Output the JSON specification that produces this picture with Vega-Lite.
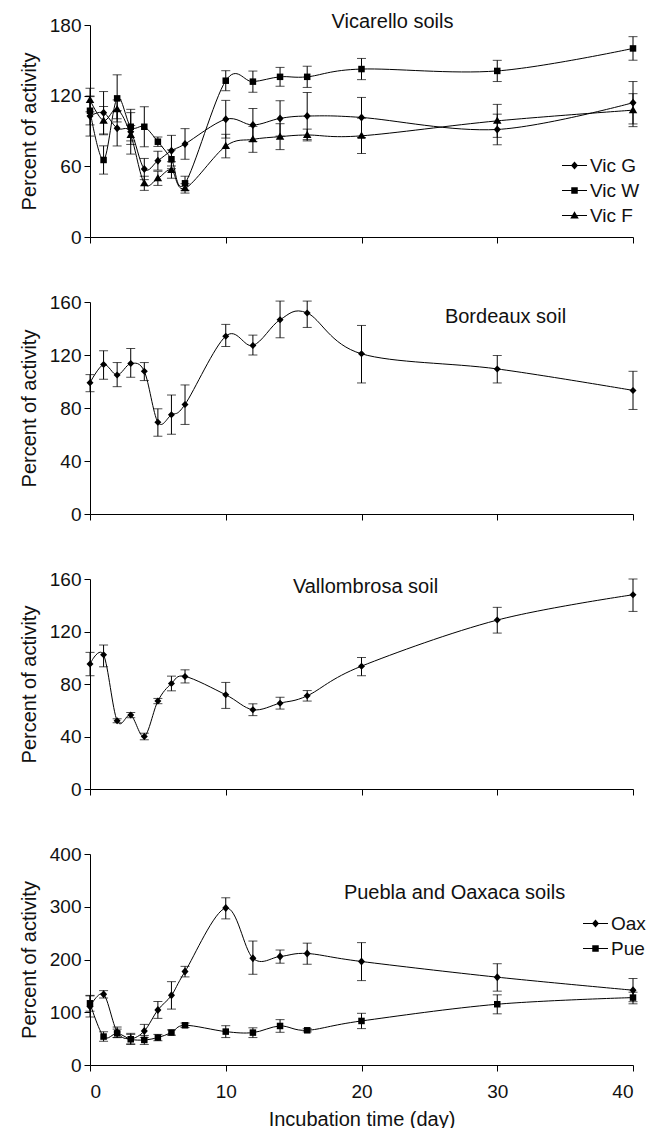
{
  "$schema": "https://vega.github.io/schema/vega-lite/v6.json",
  "padding": {"left": 19, "top": 12, "right": 5, "bottom": 0},
  "bounds": "flush",
  "spacing": 65,
  "config": {
    "font": "Liberation Sans",
    "view": {"stroke": null},
    "axis": {"grid": false, "domainColor": "#000", "tickColor": "#000", "labelColor": "#111", "titleColor": "#111", "labelFontSize": 19, "titleFontSize": 20, "titleFontWeight": "normal", "tickSize": 6, "labelPadding": 3, "domainWidth": 1, "tickWidth": 1},
    "axisX": {"labelPadding": 11, "titlePadding": 8},
    "axisY": {"titlePadding": 10},
    "title": {"fontSize": 20, "fontWeight": "normal", "color": "#111", "frame": "group", "anchor": "middle", "baseline": "alphabetic"},
    "legend": {"labelFontSize": 19, "labelColor": "#111"}
  },
  "resolve": {"scale": {"x": "independent", "y": "independent", "shape": "independent"}, "legend": {"shape": "independent"}},
  "datasets": {
    "vic": [
      {"series": "Vic G", "day": 0, "v": 102.7, "lo": 85.7, "hi": 119.7},
      {"series": "Vic G", "day": 1, "v": 105.5, "lo": 87.5, "hi": 123.5},
      {"series": "Vic G", "day": 2, "v": 92.3, "lo": 77.3, "hi": 107.3},
      {"series": "Vic G", "day": 3, "v": 89.4, "lo": 70.4, "hi": 108.4},
      {"series": "Vic G", "day": 4, "v": 57.7, "lo": 48.7, "hi": 66.7},
      {"series": "Vic G", "day": 5, "v": 64.8, "lo": 56.8, "hi": 72.8},
      {"series": "Vic G", "day": 6, "v": 73.3, "lo": 60.3, "hi": 86.3},
      {"series": "Vic G", "day": 7, "v": 79, "lo": 66, "hi": 92},
      {"series": "Vic G", "day": 10, "v": 100, "lo": 84, "hi": 116},
      {"series": "Vic G", "day": 12, "v": 95.1, "lo": 81.1, "hi": 109.1},
      {"series": "Vic G", "day": 14, "v": 100.7, "lo": 85.7, "hi": 115.7},
      {"series": "Vic G", "day": 16, "v": 102.7, "lo": 82.7, "hi": 122.7},
      {"series": "Vic G", "day": 20, "v": 101.5, "lo": 84.5, "hi": 118.5},
      {"series": "Vic G", "day": 30, "v": 91.3, "lo": 78.3, "hi": 104.3},
      {"series": "Vic G", "day": 40, "v": 114, "lo": 96, "hi": 132},
      {"series": "Vic W", "day": 0, "v": 107.2, "lo": 95.2, "hi": 119.2},
      {"series": "Vic W", "day": 1, "v": 65.4, "lo": 53.4, "hi": 77.4},
      {"series": "Vic W", "day": 2, "v": 117.7, "lo": 97.7, "hi": 137.7},
      {"series": "Vic W", "day": 3, "v": 93.6, "lo": 81.6, "hi": 105.6},
      {"series": "Vic W", "day": 4, "v": 93.6, "lo": 76.6, "hi": 110.6},
      {"series": "Vic W", "day": 5, "v": 80.9, "lo": 76.9, "hi": 84.9},
      {"series": "Vic W", "day": 6, "v": 66, "lo": 58, "hi": 74},
      {"series": "Vic W", "day": 7, "v": 45.6, "lo": 39.6, "hi": 51.6},
      {"series": "Vic W", "day": 10, "v": 132.7, "lo": 124.2, "hi": 141.2},
      {"series": "Vic W", "day": 12, "v": 131.9, "lo": 122.9, "hi": 140.9},
      {"series": "Vic W", "day": 14, "v": 136, "lo": 128, "hi": 144},
      {"series": "Vic W", "day": 16, "v": 136, "lo": 127, "hi": 145},
      {"series": "Vic W", "day": 20, "v": 142.6, "lo": 133.6, "hi": 151.6},
      {"series": "Vic W", "day": 30, "v": 141, "lo": 132, "hi": 150},
      {"series": "Vic W", "day": 40, "v": 160.1, "lo": 150.1, "hi": 170.1},
      {"series": "Vic F", "day": 0, "v": 116.3, "lo": 106.3, "hi": 126.3},
      {"series": "Vic F", "day": 1, "v": 98.8, "lo": 86.8, "hi": 110.8},
      {"series": "Vic F", "day": 2, "v": 108.4, "lo": 100.4, "hi": 116.4},
      {"series": "Vic F", "day": 3, "v": 86.6, "lo": 78.6, "hi": 94.6},
      {"series": "Vic F", "day": 4, "v": 45.6, "lo": 39.6, "hi": 51.6},
      {"series": "Vic F", "day": 5, "v": 49.8, "lo": 43.8, "hi": 55.8},
      {"series": "Vic F", "day": 6, "v": 56.9, "lo": 49.9, "hi": 63.9},
      {"series": "Vic F", "day": 7, "v": 41.3, "lo": 37.3, "hi": 45.3},
      {"series": "Vic F", "day": 10, "v": 77.2, "lo": 67.2, "hi": 87.2},
      {"series": "Vic F", "day": 12, "v": 82.9, "lo": 71.9, "hi": 93.9},
      {"series": "Vic F", "day": 14, "v": 85.2, "lo": 74.2, "hi": 96.2},
      {"series": "Vic F", "day": 16, "v": 86.6, "lo": 81.6, "hi": 91.6},
      {"series": "Vic F", "day": 20, "v": 85.9, "lo": 70.9, "hi": 100.9},
      {"series": "Vic F", "day": 30, "v": 98.6, "lo": 84.6, "hi": 112.6},
      {"series": "Vic F", "day": 40, "v": 107.7, "lo": 93.7, "hi": 121.7}
    ],
    "bdx": [
      {"day": 0, "v": 99.1, "lo": 92.3, "hi": 105.2},
      {"day": 1, "v": 112.8, "lo": 101.7, "hi": 123.2},
      {"day": 2, "v": 104.9, "lo": 96.1, "hi": 114.3},
      {"day": 3, "v": 113.5, "lo": 103.2, "hi": 124.9},
      {"day": 4, "v": 107.7, "lo": 100.7, "hi": 114.3},
      {"day": 5, "v": 69.3, "lo": 58.7, "hi": 79.4},
      {"day": 6, "v": 74.9, "lo": 60.2, "hi": 89.8},
      {"day": 7, "v": 82.7, "lo": 67.6, "hi": 97.4},
      {"day": 10, "v": 134.2, "lo": 126.4, "hi": 143.1},
      {"day": 12, "v": 127.2, "lo": 120, "hi": 135},
      {"day": 14, "v": 146.6, "lo": 133, "hi": 160.7},
      {"day": 16, "v": 151.7, "lo": 140.8, "hi": 160.7},
      {"day": 20, "v": 120.9, "lo": 98.9, "hi": 142.3},
      {"day": 30, "v": 109.5, "lo": 98.9, "hi": 119.6},
      {"day": 40, "v": 93.3, "lo": 78.9, "hi": 107.7}
    ],
    "val": [
      {"day": 0, "v": 95.2, "lo": 86.3, "hi": 104.1},
      {"day": 1, "v": 102.2, "lo": 93.1, "hi": 109.7},
      {"day": 2, "v": 52, "lo": 50.5, "hi": 53.5},
      {"day": 3, "v": 56.3, "lo": 54.3, "hi": 58.3},
      {"day": 4, "v": 40, "lo": 37.5, "hi": 42.5},
      {"day": 5, "v": 67, "lo": 65, "hi": 69},
      {"day": 6, "v": 80.4, "lo": 74.8, "hi": 86},
      {"day": 7, "v": 85.8, "lo": 80.8, "hi": 90.8},
      {"day": 10, "v": 71.8, "lo": 61.4, "hi": 81.2},
      {"day": 12, "v": 60.4, "lo": 55.9, "hi": 64.9},
      {"day": 14, "v": 65.4, "lo": 60.9, "hi": 69.9},
      {"day": 16, "v": 71, "lo": 67, "hi": 75},
      {"day": 20, "v": 93.6, "lo": 86.3, "hi": 100.2},
      {"day": 30, "v": 128.7, "lo": 118.8, "hi": 138.4},
      {"day": 40, "v": 148, "lo": 135.3, "hi": 160}
    ],
    "mex": [
      {"series": "Oax", "day": 0, "v": 110.8, "lo": 91, "hi": 131},
      {"series": "Oax", "day": 1, "v": 134, "lo": 127, "hi": 141},
      {"series": "Oax", "day": 2, "v": 62.7, "lo": 52, "hi": 72},
      {"series": "Oax", "day": 3, "v": 50, "lo": 40, "hi": 60},
      {"series": "Oax", "day": 4, "v": 64.5, "lo": 52, "hi": 77},
      {"series": "Oax", "day": 5, "v": 104.4, "lo": 88.4, "hi": 120.4},
      {"series": "Oax", "day": 6, "v": 132, "lo": 106, "hi": 158},
      {"series": "Oax", "day": 7, "v": 177.2, "lo": 167, "hi": 187},
      {"series": "Oax", "day": 10, "v": 297.5, "lo": 277, "hi": 317},
      {"series": "Oax", "day": 12, "v": 202.5, "lo": 172, "hi": 235},
      {"series": "Oax", "day": 14, "v": 205.7, "lo": 193, "hi": 218},
      {"series": "Oax", "day": 16, "v": 211.4, "lo": 191, "hi": 231},
      {"series": "Oax", "day": 20, "v": 196.2, "lo": 160, "hi": 232},
      {"series": "Oax", "day": 30, "v": 166.5, "lo": 140, "hi": 192},
      {"series": "Oax", "day": 40, "v": 141.8, "lo": 120, "hi": 164},
      {"series": "Pue", "day": 0, "v": 117, "lo": 102, "hi": 132},
      {"series": "Pue", "day": 1, "v": 53.9, "lo": 45, "hi": 63},
      {"series": "Pue", "day": 2, "v": 60, "lo": 52, "hi": 68},
      {"series": "Pue", "day": 3, "v": 48.8, "lo": 39, "hi": 58},
      {"series": "Pue", "day": 4, "v": 47.5, "lo": 39, "hi": 56},
      {"series": "Pue", "day": 5, "v": 52, "lo": 46, "hi": 58},
      {"series": "Pue", "day": 6, "v": 61.5, "lo": 56.5, "hi": 66.5},
      {"series": "Pue", "day": 7, "v": 75.3, "lo": 71, "hi": 79.5},
      {"series": "Pue", "day": 10, "v": 63.3, "lo": 52, "hi": 74.5},
      {"series": "Pue", "day": 12, "v": 61.4, "lo": 52, "hi": 70.5},
      {"series": "Pue", "day": 14, "v": 74, "lo": 62, "hi": 86},
      {"series": "Pue", "day": 16, "v": 65.8, "lo": 62.8, "hi": 68.8},
      {"series": "Pue", "day": 20, "v": 83.5, "lo": 69, "hi": 98},
      {"series": "Pue", "day": 30, "v": 115.2, "lo": 97, "hi": 133},
      {"series": "Pue", "day": 40, "v": 127.8, "lo": 116, "hi": 138}
    ]
  },
  "vconcat": [
    {
      "width": 543, "height": 212,
      "title": {"text": "Vicarello soils", "dx": 31, "offset": -16},
      "data": {"name": "vic"},
      "encoding": {
        "x": {"field": "day", "type": "quantitative", "scale": {"domain": [0, 40]}, "axis": {"values": [0, 10, 20, 30, 40], "labels": false, "title": null}},
        "y": {"field": "v", "type": "quantitative", "title": "Percent of activity", "scale": {"domain": [0, 180]}, "axis": {"values": [0, 60, 120, 180]}}
      },
      "resolve": {"scale": {"shape": "independent"}, "legend": {"shape": "independent"}},
      "layer": [
        {"mark": {"type": "rule", "color": "#000", "strokeWidth": 1},
         "encoding": {"y": {"field": "lo", "type": "quantitative", "title": "Percent of activity", "scale": {"domain": [0, 180]}}, "y2": {"field": "hi"}}},
        {"mark": {"type": "tick", "orient": "horizontal", "size": 9, "thickness": 1, "color": "#000"},
         "encoding": {"y": {"field": "lo", "type": "quantitative", "title": "Percent of activity", "scale": {"domain": [0, 180]}}}},
        {"mark": {"type": "tick", "orient": "horizontal", "size": 9, "thickness": 1, "color": "#000"},
         "encoding": {"y": {"field": "hi", "type": "quantitative", "title": "Percent of activity", "scale": {"domain": [0, 180]}}}},
        {"mark": {"type": "line", "interpolate": "cardinal", "color": "#000", "strokeWidth": 1},
         "encoding": {"detail": {"field": "series", "type": "nominal"}}},
        {"mark": {"type": "point", "filled": true, "color": "#000", "opacity": 1, "size": 100},
         "encoding": {
           "shape": {"field": "series", "type": "nominal",
             "scale": {"domain": ["Vic G", "Vic W", "Vic F"], "range": ["M0,-0.8L0.7,0L0,0.8L-0.7,0Z", "M-0.65,-0.65H0.65V0.65H-0.65Z", "M0,-0.85L0.85,0.6H-0.85Z"]},
             "legend": null
           }
         }},
        {"transform": [{"filter": "false"}],
         "mark": {"type": "point", "filled": true, "color": "#000", "opacity": 1, "size": 100},
         "encoding": {
           "shape": {"field": "series", "type": "nominal",
             "scale": {"domain": ["Vic G", "Vic W", "Vic F"], "range": ["M-2.5,-0.1H2.5V0.1H-2.5Z M0,-0.8L0.7,0L0,0.8L-0.7,0Z", "M-2.5,-0.1H2.5V0.1H-2.5Z M-0.65,-0.65H0.65V0.65H-0.65Z", "M-2.5,-0.1H2.5V0.1H-2.5Z M0,-0.85L0.85,0.6H-0.85Z"]},
             "legend": {"title": null, "orient": "none", "legendX": 475, "legendY": 131, "symbolSize": 100, "labelOffset": 6, "rowPadding": 5,
               "symbolStrokeColor": "#000", "symbolFillColor": "#000", "symbolStrokeWidth": 0, "symbolOpacity": 1}
           }
         }}
      ]
    },
    {
      "width": 543, "height": 212,
      "title": {"text": "Bordeaux soil", "dx": 144, "offset": -34},
      "data": {"name": "bdx"},
      "encoding": {
        "x": {"field": "day", "type": "quantitative", "scale": {"domain": [0, 40]}, "axis": {"values": [0, 10, 20, 30, 40], "labels": false, "title": null}},
        "y": {"field": "v", "type": "quantitative", "title": "Percent of activity", "scale": {"domain": [0, 160]}, "axis": {"values": [0, 40, 80, 120, 160]}}
      },
      "layer": [
        {"mark": {"type": "rule", "color": "#000", "strokeWidth": 1},
         "encoding": {"y": {"field": "lo", "type": "quantitative", "title": "Percent of activity", "scale": {"domain": [0, 160]}}, "y2": {"field": "hi"}}},
        {"mark": {"type": "tick", "orient": "horizontal", "size": 9, "thickness": 1, "color": "#000"},
         "encoding": {"y": {"field": "lo", "type": "quantitative", "title": "Percent of activity", "scale": {"domain": [0, 160]}}}},
        {"mark": {"type": "tick", "orient": "horizontal", "size": 9, "thickness": 1, "color": "#000"},
         "encoding": {"y": {"field": "hi", "type": "quantitative", "title": "Percent of activity", "scale": {"domain": [0, 160]}}}},
        {"mark": {"type": "line", "interpolate": "cardinal", "color": "#000", "strokeWidth": 1}, "encoding": {}},
        {"mark": {"type": "point", "filled": true, "color": "#000", "opacity": 1, "shape": "diamond", "size": 49}, "encoding": {}}
      ]
    },
    {
      "width": 543, "height": 210,
      "title": {"text": "Vallombrosa soil", "dx": 4, "offset": -27},
      "data": {"name": "val"},
      "encoding": {
        "x": {"field": "day", "type": "quantitative", "scale": {"domain": [0, 40]}, "axis": {"values": [0, 10, 20, 30, 40], "labels": false, "title": null}},
        "y": {"field": "v", "type": "quantitative", "title": "Percent of activity", "scale": {"domain": [0, 160]}, "axis": {"values": [0, 40, 80, 120, 160]}}
      },
      "layer": [
        {"mark": {"type": "rule", "color": "#000", "strokeWidth": 1},
         "encoding": {"y": {"field": "lo", "type": "quantitative", "title": "Percent of activity", "scale": {"domain": [0, 160]}}, "y2": {"field": "hi"}}},
        {"mark": {"type": "tick", "orient": "horizontal", "size": 9, "thickness": 1, "color": "#000"},
         "encoding": {"y": {"field": "lo", "type": "quantitative", "title": "Percent of activity", "scale": {"domain": [0, 160]}}}},
        {"mark": {"type": "tick", "orient": "horizontal", "size": 9, "thickness": 1, "color": "#000"},
         "encoding": {"y": {"field": "hi", "type": "quantitative", "title": "Percent of activity", "scale": {"domain": [0, 160]}}}},
        {"mark": {"type": "line", "interpolate": "cardinal", "color": "#000", "strokeWidth": 1}, "encoding": {}},
        {"mark": {"type": "point", "filled": true, "color": "#000", "opacity": 1, "shape": "diamond", "size": 49}, "encoding": {}}
      ]
    },
    {
      "width": 543, "height": 211,
      "title": {"text": "Puebla and Oaxaca soils", "dx": 93, "offset": -58},
      "data": {"name": "mex"},
      "encoding": {
        "x": {"field": "day", "type": "quantitative", "scale": {"domain": [0, 40]}, "axis": {"values": [0, 10, 20, 30, 40], "title": "Incubation time (day)"}},
        "y": {"field": "v", "type": "quantitative", "title": "Percent of activity", "scale": {"domain": [0, 400]}, "axis": {"values": [0, 100, 200, 300, 400]}}
      },
      "resolve": {"scale": {"shape": "independent"}, "legend": {"shape": "independent"}},
      "layer": [
        {"mark": {"type": "rule", "color": "#000", "strokeWidth": 1},
         "encoding": {"y": {"field": "lo", "type": "quantitative", "title": "Percent of activity", "scale": {"domain": [0, 400]}}, "y2": {"field": "hi"}}},
        {"mark": {"type": "tick", "orient": "horizontal", "size": 9, "thickness": 1, "color": "#000"},
         "encoding": {"y": {"field": "lo", "type": "quantitative", "title": "Percent of activity", "scale": {"domain": [0, 400]}}}},
        {"mark": {"type": "tick", "orient": "horizontal", "size": 9, "thickness": 1, "color": "#000"},
         "encoding": {"y": {"field": "hi", "type": "quantitative", "title": "Percent of activity", "scale": {"domain": [0, 400]}}}},
        {"mark": {"type": "line", "interpolate": "cardinal", "color": "#000", "strokeWidth": 1},
         "encoding": {"detail": {"field": "series", "type": "nominal"}}},
        {"mark": {"type": "point", "filled": true, "color": "#000", "opacity": 1, "size": 100},
         "encoding": {
           "shape": {"field": "series", "type": "nominal",
             "scale": {"domain": ["Oax", "Pue"], "range": ["M0,-0.8L0.7,0L0,0.8L-0.7,0Z", "M-0.65,-0.65H0.65V0.65H-0.65Z"]},
             "legend": null
           }
         }},
        {"transform": [{"filter": "false"}],
         "mark": {"type": "point", "filled": true, "color": "#000", "opacity": 1, "size": 100},
         "encoding": {
           "shape": {"field": "series", "type": "nominal",
             "scale": {"domain": ["Oax", "Pue"], "range": ["M-2.5,-0.1H2.5V0.1H-2.5Z M0,-0.8L0.7,0L0,0.8L-0.7,0Z", "M-2.5,-0.1H2.5V0.1H-2.5Z M-0.65,-0.65H0.65V0.65H-0.65Z"]},
             "legend": {"title": null, "orient": "none", "legendX": 496, "legendY": 60, "symbolSize": 100, "labelOffset": 6, "rowPadding": 5,
               "symbolStrokeColor": "#000", "symbolFillColor": "#000", "symbolStrokeWidth": 0, "symbolOpacity": 1}
           }
         }}
      ]
    }
  ]
}
